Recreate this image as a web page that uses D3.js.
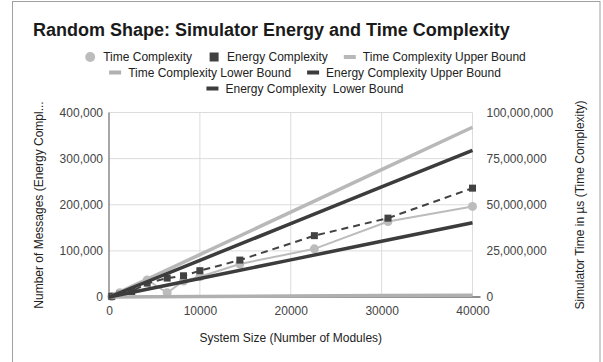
<!DOCTYPE html>
<html>
<head>
<meta charset="utf-8">
<script src="https://cdn.jsdelivr.net/npm/d3@7"></script>
<style>
  html, body { margin: 0; padding: 0; background: #fff; }
  svg { display: block; font-family: "Liberation Sans", Arial, sans-serif; }
</style>
</head>
<body>
<div id="chart"></div>
<script>
// system sizes (number of modules) for the measured runs
const sizes = [300, 1200, 2500, 4200, 6400, 8200, 10000, 14400, 22600, 30700, 40000];
// simulator time in microseconds (right axis)
const timeValues = [300000, 2300000, 3800000, 9200000, 2300000, 8700000, 11000000, 17900000, 26100000, 40900000, 49100000];
// number of messages (left axis)
const energyValues = [1500, 6000, 12000, 30000, 41000, 46000, 57000, 80000, 133000, 171000, 236000];

const boundSizes = [0, 10000, 20000, 30000, 40000];
const timeUpper = [0, 23000000, 46000000, 69000000, 92000000];
const timeLower = [0, 250000, 500000, 750000, 1000000];
const energyUpper = [0, 79500, 159000, 238500, 318000];
const energyLower = [0, 40300, 80500, 120800, 161000];

const xTicks = [0, 10000, 20000, 30000, 40000];
const leftTicks = [0, 100000, 200000, 300000, 400000];
const rightTicks = [0, 25000000, 50000000, 75000000, 100000000];

const legendRows = [
  ["Time Complexity", "Energy Complexity", "Time Complexity Upper Bound"],
  ["Time Complexity Lower Bound", "Energy Complexity Upper Bound"],
  ["Energy Complexity  Lower Bound"]
];

const light = "#bcbcbc";
const dark = "#424242";

const width = 603, height = 362;
const svg = d3.select("#chart").append("svg")
  .attr("width", width)
  .attr("height", height);

// outer frame
svg.append("rect")
  .attr("x", 12.5).attr("y", 1.5)
  .attr("width", 587.5).attr("height", 380)
  .attr("fill", "none")
  .attr("stroke", "#a0a0a0");

const x = d3.scaleLinear().domain([0, 40000]).range([109, 472.5]);
const yLeft = d3.scaleLinear().domain([0, 400000]).range([297, 112.5]);
const yRight = d3.scaleLinear().domain([0, 100000000]).range([297, 112.5]);

// title
svg.append("text")
  .attr("x", 33).attr("y", 36)
  .attr("font-size", 18).attr("font-weight", "bold")
  .attr("fill", "#1a1a1a")
  .text("Random Shape: Simulator Energy and Time Complexity");

// gridlines
svg.append("g").selectAll("line").data(leftTicks.slice(1)).join("line")
  .attr("x1", x(0)).attr("x2", x(40000))
  .attr("y1", d => yLeft(d)).attr("y2", d => yLeft(d))
  .attr("stroke", "#dcdcdc");
svg.append("g").selectAll("line").data(xTicks.slice(1)).join("line")
  .attr("x1", d => x(d)).attr("x2", d => x(d))
  .attr("y1", yLeft(0)).attr("y2", yLeft(400000))
  .attr("stroke", "#dcdcdc");

// axes
const leftAxis = svg.append("g")
  .attr("transform", `translate(${x(0)},0)`)
  .call(d3.axisLeft(yLeft).tickValues(leftTicks).tickSize(0).tickPadding(6).tickFormat(d3.format(",")));
const rightAxis = svg.append("g")
  .attr("transform", `translate(${x(40000)},0)`)
  .call(d3.axisRight(yRight).tickValues(rightTicks).tickSize(0).tickPadding(14).tickFormat(d3.format(",")));
const bottomAxis = svg.append("g")
  .attr("transform", `translate(0,${yLeft(0)})`)
  .call(d3.axisBottom(x).tickValues(xTicks).tickSize(0).tickPadding(9).tickFormat(d3.format("d")));
[leftAxis, rightAxis, bottomAxis].forEach(g => {
  g.select(".domain").remove();
  g.selectAll("text").attr("font-size", 12).attr("fill", "#444")
    .attr("font-family", "\"Liberation Sans\", Arial, sans-serif");
});

// left axis line and baseline
svg.append("line")
  .attr("x1", x(0)).attr("x2", x(0))
  .attr("y1", yLeft(400000)).attr("y2", yLeft(0))
  .attr("stroke", "#8a8a8a").attr("stroke-width", 1.5);
svg.append("line")
  .attr("x1", x(0)).attr("x2", x(40000) + 8)
  .attr("y1", yLeft(0)).attr("y2", yLeft(0))
  .attr("stroke", "#6a6a6a").attr("stroke-width", 1.5);

// series
const pts = (xs, ys) => xs.map((d, i) => [d, ys[i]]);
const lineL = d3.line().x(d => x(d[0])).y(d => yLeft(d[1]));
const lineR = d3.line().x(d => x(d[0])).y(d => yRight(d[1]));

// time complexity
svg.append("path")
  .attr("d", lineR(pts(sizes, timeValues)))
  .attr("fill", "none").attr("stroke", light).attr("stroke-width", 2);
svg.append("g").selectAll("circle").data(pts(sizes, timeValues)).join("circle")
  .attr("cx", d => x(d[0])).attr("cy", d => yRight(d[1]))
  .attr("r", 4.5).attr("fill", light);

// energy complexity
svg.append("path")
  .attr("d", lineL(pts(sizes, energyValues)))
  .attr("fill", "none").attr("stroke", dark).attr("stroke-width", 2)
  .attr("stroke-dasharray", "7,5");
svg.append("g").selectAll("rect").data(pts(sizes, energyValues)).join("rect")
  .attr("x", d => x(d[0]) - 3.5).attr("y", d => yLeft(d[1]) - 3.5)
  .attr("width", 7).attr("height", 7).attr("fill", dark);

// bounds
svg.append("path").attr("d", lineR(pts(boundSizes, timeUpper)))
  .attr("fill", "none").attr("stroke", "#b8b8b8").attr("stroke-width", 3.5);
svg.append("path").attr("d", lineR(pts(boundSizes, timeLower)))
  .attr("fill", "none").attr("stroke", "#b0b0b0").attr("stroke-width", 3.5);
svg.append("path").attr("d", lineL(pts(boundSizes, energyUpper)))
  .attr("fill", "none").attr("stroke", "#3c3c3c").attr("stroke-width", 3.5);
svg.append("path").attr("d", lineL(pts(boundSizes, energyLower)))
  .attr("fill", "none").attr("stroke", "#3c3c3c").attr("stroke-width", 3.5);

// axis titles
svg.append("text")
  .attr("x", x(20000)).attr("y", 342)
  .attr("text-anchor", "middle").attr("font-size", 12).attr("fill", "#222")
  .text("System Size (Number of Modules)");
svg.append("text")
  .attr("transform", "translate(39,205) rotate(-90)")
  .attr("text-anchor", "middle").attr("dy", "0.35em")
  .attr("font-size", 12).attr("fill", "#222")
  .text("Number of Messages (Energy Compl...");
svg.append("text")
  .attr("transform", "translate(580,205) rotate(-90)")
  .attr("text-anchor", "middle").attr("dy", "0.35em")
  .attr("font-size", 12).attr("fill", "#222")
  .text("Simulator Time in µs (Time Complexity)");

// legend
const legendStyle = {
  "Time Complexity": { type: "circle", color: light },
  "Energy Complexity": { type: "square", color: dark },
  "Time Complexity Upper Bound": { type: "line", color: "#b8b8b8" },
  "Time Complexity Lower Bound": { type: "line", color: "#b0b0b0" },
  "Energy Complexity Upper Bound": { type: "line", color: "#3c3c3c" },
  "Energy Complexity  Lower Bound": { type: "line", color: "#3c3c3c" }
};
const rowY = [57, 72.5, 88.5];
const legendCenter = 305;
legendRows.forEach((row, ri) => {
  const g = svg.append("g");
  let cursor = 0;
  row.forEach((name, i) => {
    const item = g.append("g").attr("transform", `translate(${cursor},0)`);
    const st = legendStyle[name];
    if (st.type === "circle") {
      item.append("circle").attr("cx", 6).attr("cy", 0).attr("r", 5).attr("fill", st.color);
    } else if (st.type === "square") {
      item.append("rect").attr("x", 1.5).attr("y", -4.5).attr("width", 9).attr("height", 9).attr("fill", st.color);
    } else {
      item.append("rect").attr("x", 0).attr("y", -2).attr("width", 12).attr("height", 4).attr("fill", st.color);
    }
    const t = item.append("text")
      .attr("x", 19).attr("dy", "0.35em")
      .attr("font-size", 12).attr("fill", "#222")
      .style("white-space", "pre")
      .attr("xml:space", "preserve")
      .text(name);
    cursor += 19 + t.node().getComputedTextLength() + 16;
  });
  const total = cursor - 16;
  g.attr("transform", `translate(${legendCenter - total / 2},${rowY[ri]})`);
});
</script>
</body>
</html>
